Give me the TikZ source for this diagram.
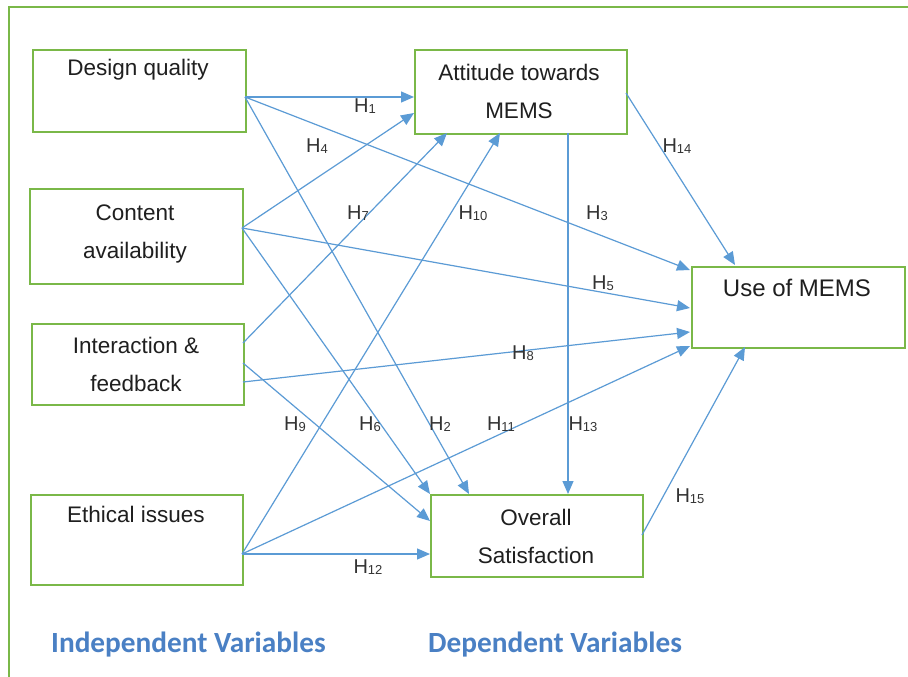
\documentclass[tikz,border=0pt]{standalone}
\usepackage{fontspec}
\setmainfont{Liberation Sans}
\newfontfamily\calib{Carlito}
\usetikzlibrary{arrows.meta}
\definecolor{boxgreen}{RGB}{122,184,72}
\definecolor{arrblue}{RGB}{91,155,213}
\definecolor{titleblue}{RGB}{74,128,196}
\newcommand{\Hy}[1]{H\raisebox{-0.12ex}{\fontsize{13}{13}\selectfont #1}}
\tikzset{
  box/.style={draw=boxgreen, line width=1.6pt, rectangle, inner sep=0pt, anchor=north west},
  txt/.style={font=\fontsize{22.5}{38}\selectfont, align=center, inner sep=0pt, text=black!88},
  hl/.style={font=\fontsize{20}{20}\selectfont, inner sep=0pt, text=black!80},
  arr/.style={draw=arrblue, line width=1.2pt, -{Triangle[length=13pt,width=11pt]}},
  ttl/.style={font=\calib\bfseries\fontsize{29.3}{30}\selectfont, text=titleblue, inner sep=0pt, anchor=west}
}
\begin{document}
\begin{tikzpicture}[x=1pt,y=-1pt]
\useasboundingbox (0,0) rectangle (908,677);
\fill[white] (0,0) rectangle (908,677);
\draw[boxgreen, line width=1.4pt] (9,677) -- (9,7) -- (908,7);

% boxes
\node[box, minimum width=213pt, minimum height=82pt] (dq) at (32,49) {};
\node[box, minimum width=213pt, minimum height=95pt] (ca) at (29,188) {};
\node[box, minimum width=212pt, minimum height=81pt] (if) at (31,323) {};
\node[box, minimum width=212pt, minimum height=90pt] (ei) at (30,494) {};
\node[box, minimum width=212pt, minimum height=84pt] (att) at (414,49) {};
\node[box, minimum width=213pt, minimum height=81pt] (use) at (691,266) {};
\node[box, minimum width=212pt, minimum height=82pt] (os) at (430,494) {};

% texts
\node[txt] (tdq) at (138,70) {Design quality};
\node[txt, anchor=base] (tca) at (135,258) {Content\\availability};
\node[txt, anchor=base] (tif) at (136,391) {Interaction \&\\feedback};
\node[txt] (tei) at (136,514) {Ethical issues};
\node[txt, anchor=base] (tatt) at (519,118) {Attitude towards\\MEMS};
\node[txt, font=\fontsize{24}{38}\selectfont] (tuse) at (797,288) {Use of MEMS};
\node[txt, anchor=base] (tos) at (536,563) {Overall\\Satisfaction};

\node[ttl] (ind) at (51,645) {Independent Variables};
\node[ttl] (dep) at (428,645) {Dependent Variables};

% ports
\coordinate (dqo) at (245,97);
\coordinate (cao) at (242,228);
\coordinate (ifo1) at (243,343);
\coordinate (ifo2) at (243,363);
\coordinate (ifo3) at (243,382);
\coordinate (eio) at (242,554);
\coordinate (atti1) at (414,97);
\coordinate (atti2) at (414,113);
\coordinate (atti3) at (447,133);
\coordinate (atti4) at (500,133);
\coordinate (attb) at (568,133);
\coordinate (attr) at (626,93);
\coordinate (usei1) at (690,270);
\coordinate (usei2) at (690,308);
\coordinate (usei3) at (690,332);
\coordinate (usei4) at (690,346);
\coordinate (uset) at (735,265);
\coordinate (useb) at (745,347);
\coordinate (osi1) at (469,494);
\coordinate (osi2) at (430,494);
\coordinate (osi3) at (430,521);
\coordinate (osi4) at (430,554);
\coordinate (ost) at (568,494);
\coordinate (osr) at (642,535);

% connectors
\draw[arr] (dqo) -- (atti1);
\draw[arr] (dqo) -- (osi1);
\draw[arr] (dqo) -- (usei1);
\draw[arr] (cao) -- (atti2);
\draw[arr] (cao) -- (usei2);
\draw[arr] (cao) -- (osi2);
\draw[arr] (ifo1) -- (atti3);
\draw[arr] (ifo3) -- (usei3);
\draw[arr] (ifo2) -- (osi3);
\draw[arr] (eio) -- (atti4);
\draw[arr] (eio) -- (usei4);
\draw[arr] (eio) -- (osi4);
\draw[arr] (attb) -- (ost);
\draw[arr] (attr) -- (uset);
\draw[arr] (osr) -- (useb);

% hypothesis labels
\node[hl] (h1) at (365,106) {\Hy{1}};
\node[hl] (h2) at (440,424) {\Hy{2}};
\node[hl] (h3) at (597,213) {\Hy{3}};
\node[hl] (h4) at (317,146) {\Hy{4}};
\node[hl] (h5) at (603,283) {\Hy{5}};
\node[hl] (h6) at (370,424) {\Hy{6}};
\node[hl] (h7) at (358,213) {\Hy{7}};
\node[hl] (h8) at (523,353) {\Hy{8}};
\node[hl] (h9) at (295,424) {\Hy{9}};
\node[hl] (h10) at (473,213) {\Hy{10}};
\node[hl] (h11) at (501,424) {\Hy{11}};
\node[hl] (h12) at (368,567) {\Hy{12}};
\node[hl] (h13) at (583,424) {\Hy{13}};
\node[hl] (h14) at (677,146) {\Hy{14}};
\node[hl] (h15) at (690,496) {\Hy{15}};
\end{tikzpicture}
\end{document}
